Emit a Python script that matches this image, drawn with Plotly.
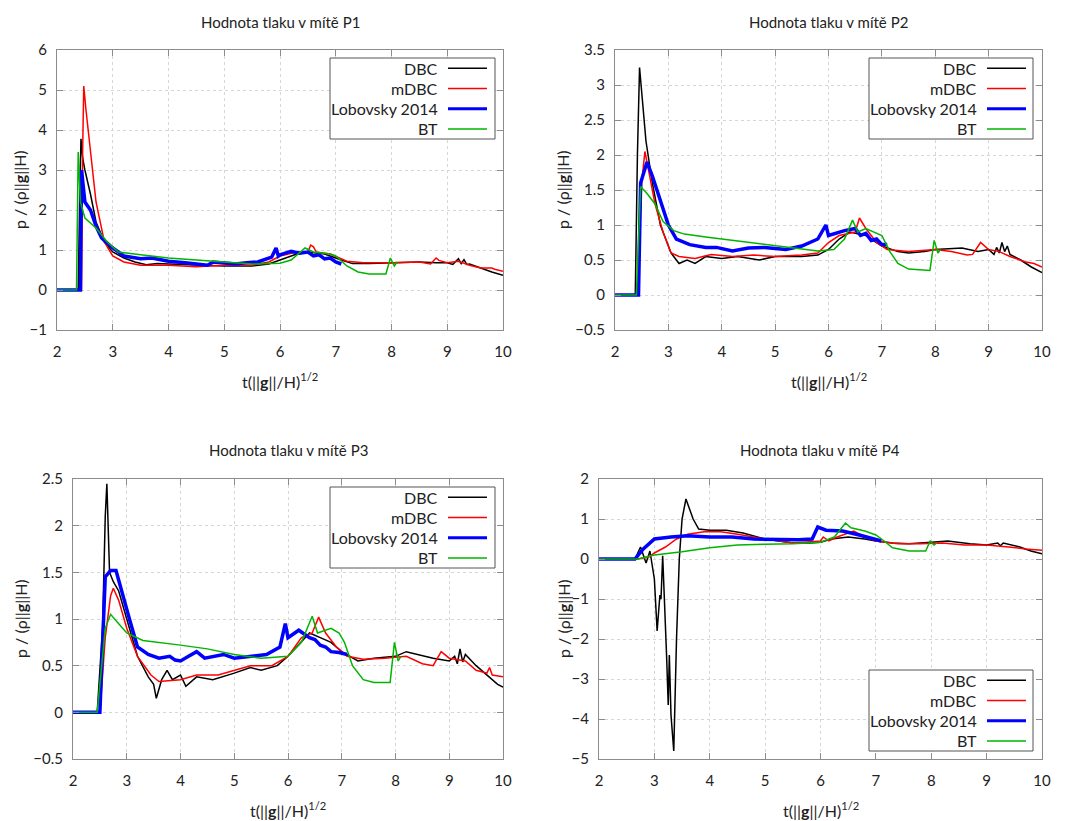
import plotly.graph_objects as go

W, H = 1065, 821
OFF = 8  # page body margin

# ---- P1 ----
p1_dbc_t = [2.0, 2.38, 2.41, 2.43, 2.46, 2.5, 2.6, 2.7, 2.85, 3.0, 3.2, 3.4, 3.6, 3.8, 4.0, 4.5, 5.0, 5.5, 5.8, 6.0, 6.3, 6.5, 6.8, 7.1, 7.3, 7.6, 8.0, 8.5, 8.8, 9.0, 9.1, 9.15, 9.2, 9.25, 9.3, 9.35, 9.4, 9.6, 9.8, 10.0]
p1_dbc_p = [0.0, 0.0, 2.5, 3.78, 3.3, 3.0, 2.4, 1.7, 1.2, 0.95, 0.8, 0.7, 0.63, 0.66, 0.65, 0.62, 0.6, 0.6, 0.65, 0.75, 0.9, 0.95, 0.9, 0.75, 0.66, 0.66, 0.68, 0.7, 0.68, 0.68, 0.64, 0.72, 0.78, 0.66, 0.76, 0.64, 0.65, 0.55, 0.45, 0.37]
p1_mdbc_t = [2.0, 2.44, 2.46, 2.48, 2.52, 2.6, 2.7, 2.85, 3.0, 3.2, 3.5, 4.0, 4.5, 5.0, 5.5, 5.8, 6.0, 6.3, 6.5, 6.55, 6.6, 6.65, 6.9, 7.2, 7.5, 8.0, 8.5, 8.7, 8.8, 8.85, 9.0, 9.2, 9.4, 9.6, 9.8, 9.85, 10.0]
p1_mdbc_p = [0.0, 0.0, 3.5, 5.1, 4.5, 3.5, 2.2, 1.2, 0.85, 0.7, 0.62, 0.62, 0.58, 0.62, 0.62, 0.7, 0.85, 0.95, 0.95, 1.12, 1.08, 0.95, 0.9, 0.72, 0.68, 0.68, 0.7, 0.65, 0.8, 0.74, 0.68, 0.72, 0.62, 0.55, 0.55, 0.52, 0.47]
p1_lob_t = [2.0, 2.42, 2.44, 2.47, 2.5, 2.6, 2.7, 2.8, 3.0, 3.2, 3.5, 3.7, 4.0, 4.3, 4.5, 4.7, 4.8, 5.0, 5.2, 5.4, 5.6, 5.85, 5.93, 5.97, 6.0, 6.2, 6.35, 6.5, 6.6, 6.7, 6.8, 6.9, 7.0, 7.1]
p1_lob_p = [0.0, 0.0, 3.0, 2.5, 2.2, 2.0, 1.6, 1.3, 1.05, 0.85, 0.78, 0.8, 0.72, 0.68, 0.65, 0.62, 0.7, 0.67, 0.65, 0.68, 0.7, 0.82, 1.05, 0.85, 0.88, 0.97, 0.92, 0.95, 0.85, 0.88, 0.78, 0.8, 0.7, 0.65]
p1_bt_t = [2.0, 2.35, 2.38, 2.42, 2.5, 2.7, 2.9, 3.1, 3.5, 4.0, 4.5, 5.0, 5.5, 6.0, 6.2, 6.45, 6.6, 6.9, 7.0, 7.2, 7.4, 7.6, 7.9, 7.98, 8.05, 8.1]
p1_bt_p = [0.0, 0.0, 3.45, 2.2, 1.8, 1.55, 1.2, 0.95, 0.88, 0.8, 0.75, 0.7, 0.65, 0.67, 0.75, 1.05, 0.95, 0.9, 0.85, 0.6, 0.45, 0.4, 0.4, 0.8, 0.6, 0.7]

# ---- P2 ----
p2_dbc_t = [2.0, 2.38, 2.42, 2.46, 2.5, 2.58, 2.7, 2.85, 3.05, 3.2, 3.35, 3.5, 3.7, 4.0, 4.3, 4.7, 5.0, 5.5, 5.8, 6.0, 6.2, 6.4, 6.7, 7.0, 7.3, 7.5, 7.8, 8.0, 8.5, 8.8, 9.0, 9.1, 9.15, 9.2, 9.25, 9.3, 9.35, 9.4, 9.6, 9.8, 10.0]
p2_dbc_p = [0.0, 0.0, 2.0, 3.25, 2.9, 2.2, 1.6, 1.0, 0.6, 0.45, 0.5, 0.45, 0.55, 0.52, 0.55, 0.5, 0.55, 0.55, 0.57, 0.65, 0.8, 0.9, 0.85, 0.7, 0.62, 0.6, 0.62, 0.65, 0.67, 0.62, 0.65, 0.58, 0.68, 0.6, 0.75, 0.62, 0.7, 0.58, 0.5, 0.4, 0.32]
p2_mdbc_t = [2.0, 2.42, 2.5, 2.56, 2.65, 2.75, 2.9, 3.05, 3.2, 3.5, 3.8, 4.2, 4.6, 5.0, 5.5, 5.8, 6.0, 6.2, 6.5, 6.58, 6.7, 6.9, 7.1, 7.5, 8.0, 8.3, 8.6, 8.7, 8.85, 9.0, 9.2, 9.4, 9.7, 9.85, 10.0]
p2_mdbc_p = [0.0, 0.0, 1.6, 2.05, 1.7, 1.3, 0.9, 0.6, 0.55, 0.52, 0.58, 0.55, 0.57, 0.55, 0.57, 0.6, 0.75, 0.85, 0.9, 1.1, 0.95, 0.75, 0.65, 0.62, 0.65, 0.62, 0.57, 0.58, 0.75, 0.65, 0.62, 0.55, 0.47, 0.45, 0.4]
p2_lob_t = [2.0, 2.44, 2.48, 2.6, 2.7, 2.85, 3.0, 3.15, 3.4, 3.7, 3.9, 4.2, 4.5, 4.8, 5.2, 5.5, 5.8, 5.95, 6.0, 6.3, 6.5, 6.6, 6.7, 6.8, 6.9, 7.0, 7.1]
p2_lob_p = [0.0, 0.0, 1.6, 1.9, 1.7, 1.35, 1.0, 0.8, 0.72, 0.68, 0.68, 0.63, 0.67, 0.68, 0.65, 0.7, 0.8, 1.0, 0.85, 0.92, 0.95, 0.85, 0.88, 0.78, 0.8, 0.72, 0.72]
p2_bt_t = [2.0, 2.4, 2.48, 2.6, 2.75, 2.9, 3.1, 3.3, 3.7, 4.2, 4.8, 5.3, 5.8, 6.1, 6.3, 6.45, 6.55, 6.7, 6.9, 7.0, 7.15, 7.3, 7.5, 7.9, 7.98, 8.05, 8.1]
p2_bt_p = [0.0, 0.0, 1.55, 1.45, 1.3, 1.05, 0.92, 0.87, 0.83, 0.78, 0.72, 0.67, 0.63, 0.65, 0.8, 1.07, 0.9, 0.95, 0.88, 0.85, 0.62, 0.45, 0.37, 0.35, 0.78, 0.6, 0.65]

# ---- P3 ----
p3_dbc_t = [2.0, 2.45, 2.55, 2.6, 2.63, 2.68, 2.75, 2.85, 3.0, 3.2, 3.4, 3.5, 3.55, 3.65, 3.75, 3.85, 4.0, 4.1, 4.3, 4.6, 5.0, 5.3, 5.5, 5.8, 6.0, 6.2, 6.4, 6.6, 6.8, 7.0, 7.3, 7.6, 8.0, 8.2, 8.7, 9.0, 9.1, 9.15, 9.2, 9.25, 9.3, 9.5, 9.7, 9.9, 10.0]
p3_dbc_p = [0.0, 0.0, 0.9, 2.1, 2.45, 1.5, 1.4, 1.3, 1.0, 0.6, 0.38, 0.3, 0.15, 0.35, 0.45, 0.35, 0.4, 0.28, 0.38, 0.35, 0.42, 0.48, 0.45, 0.5, 0.6, 0.72, 0.85, 0.8, 0.75, 0.65, 0.55, 0.58, 0.6, 0.65, 0.58, 0.55, 0.6, 0.52, 0.68, 0.54, 0.62, 0.5, 0.4, 0.3, 0.27]
p3_mdbc_t = [2.0, 2.5, 2.6, 2.7, 2.75, 2.85, 3.0, 3.2, 3.45, 3.6, 4.0, 4.3, 4.7, 5.0, 5.3, 5.7, 6.0, 6.25, 6.45, 6.57, 6.7, 6.9, 7.1, 7.4, 7.8, 8.2, 8.5, 8.7, 8.85, 9.0, 9.3, 9.5, 9.7, 9.75, 9.8, 10.0]
p3_mdbc_p = [0.0, 0.0, 0.8, 1.25, 1.33, 1.2, 0.9, 0.6, 0.4, 0.33, 0.35, 0.4, 0.4, 0.45, 0.5, 0.5, 0.6, 0.8, 0.85, 1.02, 0.85, 0.7, 0.6, 0.57, 0.58, 0.6, 0.52, 0.5, 0.65, 0.58, 0.55, 0.45, 0.42, 0.48, 0.4, 0.38]
p3_lob_t = [2.0, 2.5, 2.6, 2.7, 2.8, 2.9, 3.05, 3.2, 3.4, 3.6, 3.8, 3.9, 4.0, 4.15, 4.3, 4.45, 4.6, 4.8, 5.0, 5.3, 5.6, 5.85, 5.95, 6.0, 6.2, 6.4, 6.5, 6.6, 6.7, 6.8, 6.95, 7.1]
p3_lob_p = [0.0, 0.0, 1.45, 1.52, 1.52, 1.3, 1.0, 0.7, 0.62, 0.58, 0.6, 0.56, 0.55, 0.6, 0.65, 0.58, 0.6, 0.62, 0.58, 0.6, 0.62, 0.7, 0.95, 0.8, 0.88, 0.8, 0.78, 0.72, 0.7, 0.65, 0.64, 0.62]
p3_bt_t = [2.0, 2.45, 2.6, 2.7, 2.85, 3.0, 3.3, 3.6, 4.0, 4.5, 5.0, 5.5, 6.0, 6.25, 6.45, 6.55, 6.8, 6.95, 7.05, 7.2, 7.4, 7.6, 7.9, 7.98, 8.05, 8.1]
p3_bt_p = [0.0, 0.0, 0.9, 1.05, 0.95, 0.85, 0.77, 0.75, 0.72, 0.68, 0.62, 0.58, 0.6, 0.75, 1.03, 0.85, 0.9, 0.85, 0.75, 0.5, 0.35, 0.32, 0.32, 0.75, 0.55, 0.6]

# ---- P4 ----
p4_dbc_t = [2.0, 2.65, 2.75, 2.8, 2.85, 2.92, 3.0, 3.05, 3.1, 3.12, 3.15, 3.22, 3.25, 3.27, 3.3, 3.35, 3.4, 3.45, 3.5, 3.57, 3.7, 3.8, 4.0, 4.3, 4.6, 5.0, 5.5, 5.8, 6.0, 6.2, 6.5, 6.8, 7.0, 7.3, 7.6, 8.0, 8.3, 8.7, 9.0, 9.2, 9.25, 9.3, 9.6, 9.8, 10.0]
p4_dbc_p = [0.0, 0.0, 0.3, 0.1, -0.1, 0.2, -0.5, -1.8, -0.9, -1.0, 0.08, -2.4, -3.65, -2.4, -3.9, -4.8, -2.0, 0.0, 1.0, 1.5, 1.0, 0.75, 0.72, 0.72, 0.65, 0.5, 0.4, 0.4, 0.42, 0.5, 0.55, 0.5, 0.45, 0.4, 0.38, 0.42, 0.45, 0.38, 0.35, 0.4, 0.33, 0.4, 0.3, 0.2, 0.13]
p4_mdbc_t = [2.0, 2.7, 2.9, 3.0, 3.2, 3.4, 3.6, 3.9, 4.2, 4.5, 5.0, 5.5, 6.0, 6.05, 6.15, 6.3, 6.6, 6.8, 7.0, 7.4, 7.8, 8.2, 8.6, 9.0, 9.4, 9.7, 10.0]
p4_mdbc_p = [0.0, 0.0, 0.05, 0.15, 0.3, 0.5, 0.62, 0.68, 0.68, 0.62, 0.5, 0.4, 0.45, 0.55, 0.45, 0.55, 0.7, 0.55, 0.45, 0.38, 0.38, 0.4, 0.35, 0.35, 0.3, 0.25, 0.22]
p4_lob_t = [2.0, 2.65, 2.8, 3.0, 3.3, 3.6, 4.0, 4.4, 4.8, 5.2, 5.6, 5.85, 5.95, 6.1, 6.4, 6.7, 7.0, 7.1]
p4_lob_p = [0.0, 0.0, 0.25, 0.5, 0.55, 0.58, 0.55, 0.55, 0.5, 0.48, 0.48, 0.5, 0.8, 0.72, 0.7, 0.6, 0.5, 0.45]
p4_bt_t = [2.0, 2.7, 3.0, 3.5, 4.0, 4.5, 5.0, 5.5, 6.0, 6.25, 6.45, 6.55, 6.8, 7.0, 7.15, 7.3, 7.6, 7.9, 7.98, 8.05, 8.1]
p4_bt_p = [0.0, 0.0, 0.1, 0.18, 0.28, 0.35, 0.37, 0.38, 0.42, 0.55, 0.9, 0.78, 0.7, 0.6, 0.45, 0.28, 0.2, 0.2, 0.45, 0.35, 0.4]

names = ["DBC", "mDBC", "Lobovsky 2014", "BT"]
colors = ["#000000", "#ff0000", "#0000ff", "#00b400"]
widths = [1.5, 1.5, 3.5, 1.5]

panels = [
    dict(title="Hodnota tlaku v mítě P1", yr=[-1, 6], dt=1,
         series=[(p1_dbc_t, p1_dbc_p), (p1_mdbc_t, p1_mdbc_p), (p1_lob_t, p1_lob_p), (p1_bt_t, p1_bt_p)],
         box=(57, 503, 50, 330), tt=(280, 22), yt=20, leg=(330, 495, 58, 139)),
    dict(title="Hodnota tlaku v mítě P2", yr=[-0.5, 3.5], dt=0.5,
         series=[(p2_dbc_t, p2_dbc_p), (p2_mdbc_t, p2_mdbc_p), (p2_lob_t, p2_lob_p), (p2_bt_t, p2_bt_p)],
         box=(615, 1042, 50, 330), tt=(828, 22), yt=563, leg=(869, 1033, 58, 139)),
    dict(title="Hodnota tlaku v mítě P3", yr=[-0.5, 2.5], dt=0.5,
         series=[(p3_dbc_t, p3_dbc_p), (p3_mdbc_t, p3_mdbc_p), (p3_lob_t, p3_lob_p), (p3_bt_t, p3_bt_p)],
         box=(73, 503, 479, 759), tt=(288, 450), yt=20, leg=(330, 495, 487, 568)),
    dict(title="Hodnota tlaku v mítě P4", yr=[-5, 2], dt=1,
         series=[(p4_dbc_t, p4_dbc_p), (p4_mdbc_t, p4_mdbc_p), (p4_lob_t, p4_lob_p), (p4_bt_t, p4_bt_p)],
         box=(599, 1042, 479, 759), tt=(820, 450), yt=563, leg=(869, 1033, 670, 751)),
]

FW, FH = W - OFF, H - OFF


def px(x):
    return (x - OFF) / FW


def py(y):
    return 1 - (y - OFF) / FH


FONT = "Lato"
TXT = "#222222"
fig = go.Figure()
annotations = []
shapes = []
layout = {}

for i, pn in enumerate(panels, start=1):
    sfx = "" if i == 1 else str(i)
    for (t, p), nm, c, w in zip(pn["series"], names, colors, widths):
        fig.add_trace(go.Scatter(x=t, y=p, mode="lines", name=nm, showlegend=False,
                                 line=dict(color=c, width=w),
                                 xaxis="x" + sfx, yaxis="y" + sfx))
    x0, x1, y0, y1 = pn["box"]
    axcommon = dict(showline=True, linecolor="#8c8c8c", linewidth=1, mirror="allticks",
                    ticks="inside", ticklen=6, tickcolor="#8c8c8c", automargin=False,
                    showgrid=True, gridcolor="#d6d6d6", griddash="dot", gridwidth=1,
                    zeroline=False, tickfont=dict(family=FONT, size=15, color=TXT))
    layout["xaxis" + sfx] = dict(axcommon, domain=[px(x0), px(x1)], range=[2, 10], dtick=1,
                                 anchor="y" + sfx, ticklabelstandoff=8)
    layout["yaxis" + sfx] = dict(axcommon, domain=[py(y1), py(y0)], range=pn["yr"], dtick=pn["dt"],
                                 anchor="x" + sfx, ticklabelstandoff=6)
    # subplot title
    annotations.append(dict(text=pn["title"], x=px(pn["tt"][0]), y=py(pn["tt"][1]), xref="paper", yref="paper",
                            showarrow=False, xanchor="center", yanchor="middle",
                            font=dict(family=FONT, size=15, color=TXT)))
    # axis titles
    annotations.append(dict(text="t(||<b>g</b>||/H)<sup>1/2</sup>", x=px((x0 + x1) / 2), y=py(y1 + 50),
                            xref="paper", yref="paper", showarrow=False, xanchor="center", yanchor="middle",
                            font=dict(family=FONT, size=16, color=TXT)))
    annotations.append(dict(text="p / (ρ||<b>g</b>||H)", x=px(pn["yt"]), y=py((y0 + y1) / 2),
                            xref="paper", yref="paper", showarrow=False, textangle=-90,
                            xanchor="center", yanchor="middle",
                            font=dict(family=FONT, size=16, color=TXT)))
    # gnuplot-style key: text right, sample to the right
    lx0, lx1, ly0, ly1 = pn["leg"]
    shapes.append(dict(type="rect", xref="paper", yref="paper", x0=px(lx0), x1=px(lx1),
                       y0=py(ly1), y1=py(ly0), line=dict(color="#555", width=1),
                       fillcolor="white", layer="above"))
    rh = (ly1 - ly0) / 4
    for k, (nm, c, w) in enumerate(zip(names, colors, widths)):
        ry = ly0 + rh * (k + 0.5)
        annotations.append(dict(text=nm, x=px(lx0 + 110), y=py(ry), xref="paper", yref="paper",
                                showarrow=False, xanchor="right", yanchor="middle",
                                font=dict(family=FONT, size=16, color=TXT)))
        shapes.append(dict(type="line", xref="paper", yref="paper", x0=px(lx0 + 118), x1=px(lx0 + 157),
                           y0=py(ry), y1=py(ry), line=dict(color=c, width=w if w < 3 else 3),
                           layer="above"))

fig.update_layout(**layout)
fig.update_layout(template="none", width=FW, height=FH, margin=dict(l=0, r=0, t=0, b=0),
                  plot_bgcolor="white", paper_bgcolor="white",
                  annotations=annotations, shapes=shapes, showlegend=False)
fig.write_html("out.html")
